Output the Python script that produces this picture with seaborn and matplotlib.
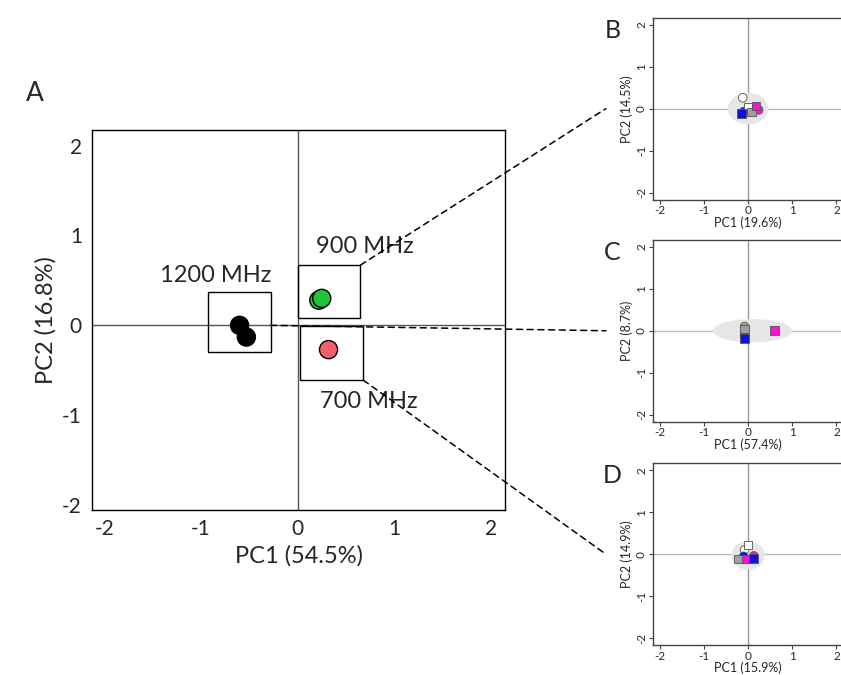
import numpy as np
import pandas as pd
import seaborn as sns
import matplotlib.pyplot as plt
from matplotlib.patches import Rectangle, Ellipse, ConnectionPatch

# Main PCA panel (A)
main_pc1 = [-0.60, -0.53, 0.22, 0.25, 0.32]
main_pc2 = [0.00, -0.13, 0.28, 0.30, -0.27]
main_group = ['1200 MHz', '1200 MHz', '900 MHz', '900 MHz', '700 MHz']
group_colors = {'1200 MHz': '#000000', '900 MHz': '#1fc43a', '700 MHz': '#f2606e'}

# Boxes around groups: (x0, y0, x1, y1)
boxes = {
    '1200 MHz': (-0.93, -0.30, -0.28, 0.37),
    '900 MHz': (0.00, 0.08, 0.65, 0.67),
    '700 MHz': (0.02, -0.61, 0.68, -0.01),
}
box_labels = {'1200 MHz': (-0.85, 0.55), '900 MHz': (0.7, 0.88), '700 MHz': (0.74, -0.85)}

# Sub panels (B, C, D)
sub_panels = {
    'B': dict(xlabel='PC1 (19.6%)', ylabel='PC2 (14.5%)',
              pc1=[-0.12, 0.00, 0.08, -0.15, -0.10, 0.18, 0.24],
              pc2=[0.26, 0.04, -0.08, -0.11, -0.07, 0.06, -0.03],
              kind=['wc', 'ws', 'gs', 'bs', 'bc', 'ms', 'mc'],
              ell=(0.0, 0.0, 0.88, 0.72)),
    'C': dict(xlabel='PC1 (57.4%)', ylabel='PC2 (8.7%)',
              pc1=[-0.08, -0.08, -0.08, -0.08, -0.08, 0.60],
              pc2=[0.10, 0.04, -0.02, -0.12, -0.18, 0.00],
              kind=['gc', 'gs', 'mc', 'bc', 'bs', 'ms'],
              ell=(0.10, 0.0, 1.75, 0.52)),
    'D': dict(xlabel='PC1 (15.9%)', ylabel='PC2 (14.9%)',
              pc1=[0.00, -0.08, -0.22, -0.10, -0.05, 0.12, 0.13],
              pc2=[0.22, 0.10, -0.12, -0.05, -0.12, -0.10, -0.04],
              kind=['ws', 'wc', 'gs', 'bc', 'ms', 'bs', 'mc'],
              ell=(0.0, -0.03, 0.72, 0.64)),
}
fill = {'w': 'white', 'g': '#a0a0a0', 'b': '#1010e0', 'm': '#ff10d0'}

sns.set_style('white')
plt.rcParams['font.family'] = ['Lato', 'DejaVu Sans']
plt.rcParams['axes.unicode_minus'] = False

fig = plt.figure(figsize=(8.41, 6.75), dpi=100)
ax = fig.add_axes([0.109, 0.245, 0.492, 0.562])

df = pd.DataFrame({'PC1': main_pc1, 'PC2': main_pc2, 'group': main_group})
ax.axvline(0, color='#555555', lw=1, zorder=0)
ax.axhline(0, color='#555555', lw=1, zorder=0)
sns.scatterplot(data=df, x='PC1', y='PC2', hue='group', palette=group_colors,
                s=170, edgecolor='black', linewidth=1, legend=False, ax=ax, zorder=3)
for g, (x0, y0, x1, y1) in boxes.items():
    ax.add_patch(Rectangle((x0, y0), x1 - x0, y1 - y0, fill=False, ec='black', lw=1, zorder=2))
    ax.text(*box_labels[g], g, fontsize=17, ha='center', va='center')
ax.set_xlim(-2.13, 2.15)
ax.set_ylim(-2.05, 2.17)
ax.set_xticks([-2, -1, 0, 1, 2])
ax.set_yticks([-2, -1, 0, 1, 2])
ax.tick_params(labelsize=15)
ax.set_xlabel('PC1 (54.5%)', fontsize=17)
ax.set_ylabel('PC2 (16.8%)', fontsize=17)
for sp in ax.spines.values():
    sp.set_color('black')
    sp.set_linewidth(1)
fig.text(0.042, 0.862, 'A', fontsize=19, ha='center', va='center')

sub_bottoms = {'B': 0.704, 'C': 0.375, 'D': 0.044}
sub_axes = {}
for name, p in sub_panels.items():
    sax = fig.add_axes([0.776, sub_bottoms[name], 0.227, 0.27])
    sub_axes[name] = sax
    sax.axvline(0, color='#999999', lw=1, zorder=0)
    sax.axhline(0, color='#bbbbbb', lw=1, zorder=0)
    cx, cy, w, h = p['ell']
    sax.add_patch(Ellipse((cx, cy), w, h, color='#e6e6e6', zorder=1))
    sdf = pd.DataFrame({'PC1': p['pc1'], 'PC2': p['pc2'], 'kind': p['kind']})
    sdf['col'] = sdf['kind'].str[0].map(fill)
    sdf['shape'] = sdf['kind'].str[1]
    for shape, marker in [('c', 'o'), ('s', 's')]:
        part = sdf[sdf['shape'] == shape]
        sns.scatterplot(data=part, x='PC1', y='PC2', marker=marker, c=part['col'],
                        s=38, edgecolor='#555555', linewidth=0.6, ax=sax, zorder=3)
    sax.set_xlim(-2.16, 2.16)
    sax.set_ylim(-2.17, 2.17)
    sax.set_xticks([-2, -1, 0, 1, 2])
    sax.set_yticks([-2, -1, 0, 1, 2])
    sax.tick_params(labelsize=8.5, length=3, pad=1)
    for lbl in sax.get_yticklabels():
        lbl.set_rotation(90)
        lbl.set_va('center')
    sax.set_xlabel(p['xlabel'], fontsize=9, labelpad=0)
    sax.set_ylabel(p['ylabel'], fontsize=9, labelpad=2)
    for sp in sax.spines.values():
        sp.set_color('#444444')
        sp.set_linewidth(1)
    sax.tick_params(axis='both', which='both', bottom=True, left=True, color='#444444')
    sax.text(-0.21, 0.93, name, transform=sax.transAxes, fontsize=18, ha='center', va='center')

# dashed connectors
links = [((0.65, 0.67), 'B'), ((-0.28, 0.0), 'C'), ((0.68, -0.61), 'D')]
for (mx, my), name in links:
    con = ConnectionPatch(xyA=(mx, my), coordsA=ax.transData,
                          xyB=(-0.245, 0.5), coordsB=sub_axes[name].transAxes,
                          ls=(0, (4, 3)), color='black', lw=1.1)
    fig.add_artist(con)

fig.savefig('out.png', dpi=100)
